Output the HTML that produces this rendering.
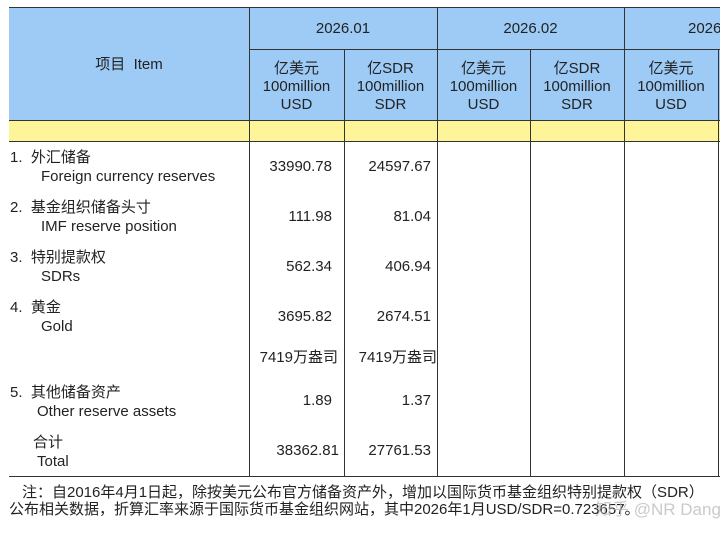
<!DOCTYPE html><html><head><style>
body{margin:0;width:720px;height:540px;background:#fff;font-family:"Liberation Sans","Noto Sans CJK SC",sans-serif;color:#222;overflow:hidden;position:relative}
div{position:absolute}
.t{font-size:15px;white-space:nowrap;line-height:18px}
.c{text-align:center}
.r{text-align:right}
.v{width:1px;background:#333}
.h{height:1px;background:#333}
.a{left:249px;width:83px}
.b{left:344px;width:87px}
</style></head><body>
<div style="left:9px;top:7px;width:711px;height:113px;background:#9dcbf6"></div>
<div style="left:9px;top:120px;width:711px;height:21px;background:#fef59a"></div>
<div class="h" style="left:9px;top:7px;width:711px"></div>
<div class="h" style="left:249px;top:49px;width:471px"></div>
<div class="h" style="left:9px;top:120px;width:711px"></div>
<div class="h" style="left:9px;top:141px;width:711px"></div>
<div class="h" style="left:9px;top:476px;width:711px"></div>
<div class="v" style="left:249px;top:7px;height:470px"></div>
<div class="v" style="left:344px;top:49px;height:428px"></div>
<div class="v" style="left:437px;top:7px;height:470px"></div>
<div class="v" style="left:530px;top:49px;height:428px"></div>
<div class="v" style="left:624px;top:7px;height:470px"></div>
<div class="v" style="left:718px;top:49px;height:428px"></div>
<div class="t c" style="left:9px;top:56px;width:240px">项目&nbsp; Item</div>
<div class="t c" style="left:249px;top:20px;width:188px">2026.01</div>
<div class="t c" style="left:437px;top:20px;width:187px">2026.02</div>
<div class="t" style="left:688px;top:20px">2026</div>
<div class="t c" style="left:249px;top:60px;width:95px">亿美元<br>100million<br>USD</div>
<div class="t c" style="left:344px;top:60px;width:93px">亿SDR<br>100million<br>SDR</div>
<div class="t c" style="left:437px;top:60px;width:93px">亿美元<br>100million<br>USD</div>
<div class="t c" style="left:530px;top:60px;width:94px">亿SDR<br>100million<br>SDR</div>
<div class="t c" style="left:624px;top:60px;width:94px">亿美元<br>100million<br>USD</div>
<div class="t" style="left:10px;top:149px">1.&nbsp; 外汇储备</div><div class="t" style="left:41px;top:168px">Foreign currency reserves</div>
<div class="t" style="left:10px;top:199px">2.&nbsp; 基金组织储备头寸</div><div class="t" style="left:41px;top:218px">IMF reserve position</div>
<div class="t" style="left:10px;top:249px">3.&nbsp; 特别提款权</div><div class="t" style="left:41px;top:268px">SDRs</div>
<div class="t" style="left:10px;top:299px">4.&nbsp; 黄金</div><div class="t" style="left:41px;top:318px">Gold</div>
<div class="t" style="left:10px;top:384px">5.&nbsp; 其他储备资产</div><div class="t" style="left:37px;top:403px">Other reserve assets</div>
<div class="t" style="left:33px;top:434px">合计</div><div class="t" style="left:37px;top:453px">Total</div>
<div class="t r a" style="top:158px">33990.78</div>
<div class="t r b" style="top:158px">24597.67</div>
<div class="t r a" style="top:208px">111.98</div>
<div class="t r b" style="top:208px">81.04</div>
<div class="t r a" style="top:258px">562.34</div>
<div class="t r b" style="top:258px">406.94</div>
<div class="t r a" style="top:308px">3695.82</div>
<div class="t r b" style="top:308px">2674.51</div>
<div class="t r" style="left:249px;top:349px;width:89px">7419万盎司</div>
<div class="t r" style="left:344px;top:349px;width:93px">7419万盎司</div>
<div class="t r a" style="top:392px">1.89</div>
<div class="t r b" style="top:392px">1.37</div>
<div class="t r" style="left:249px;top:442px;width:90px">38362.81</div>
<div class="t r b" style="top:442px">27761.53</div>
<div class="t" style="left:22px;top:484px;font-size:15px">注：自2016年4月1日起，除按美元公布官方储备资产外，增加以国际货币基金组织特别提款权（SDR）</div>
<div class="t" style="left:9px;top:501px;font-size:15px">公布相关数据，折算汇率来源于国际货币基金组织网站，其中2026年1月USD/SDR=0.723657。</div>
<div class="t" style="left:595px;top:501px;font-size:17px;color:rgba(180,180,180,.7)">知乎 @NR Dang</div>
</body></html>
